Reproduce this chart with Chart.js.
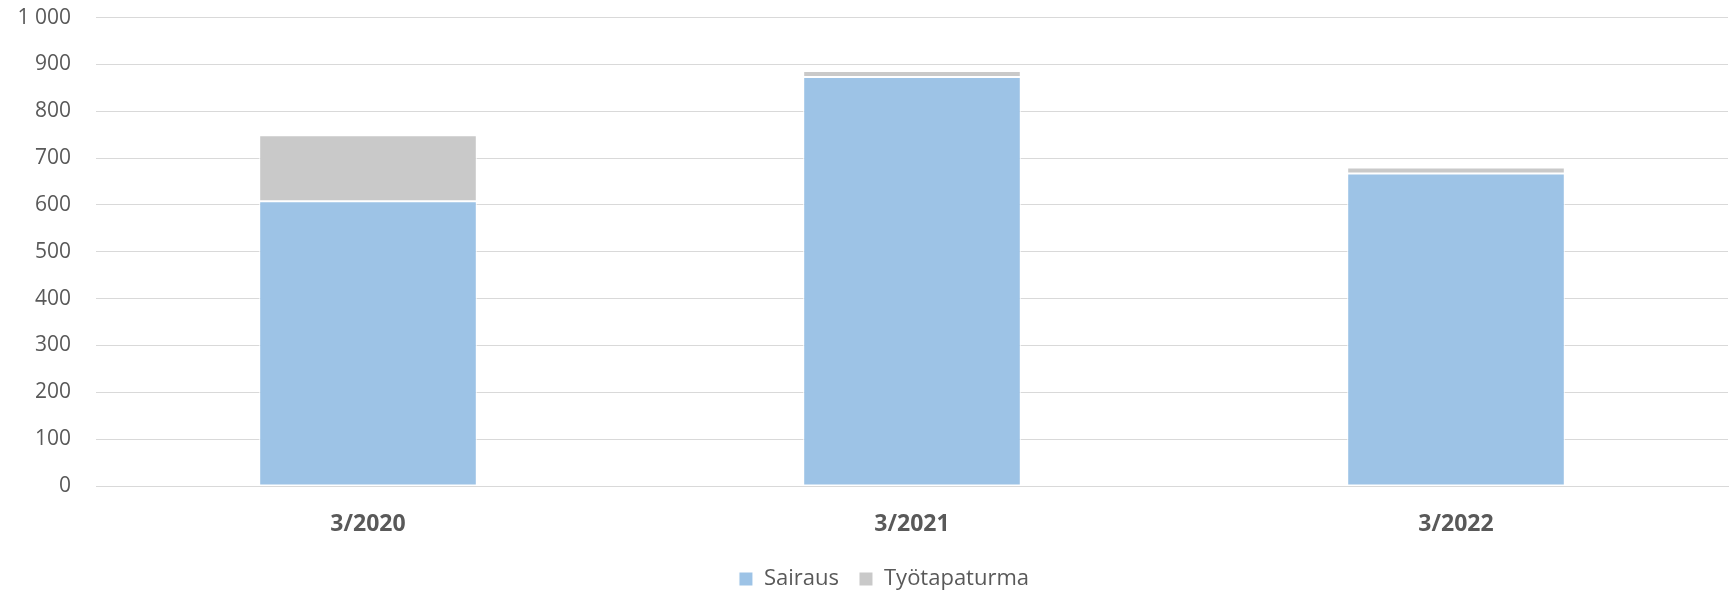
<!DOCTYPE html>
<html>
<head>
<meta charset="utf-8">
<script src="https://cdn.jsdelivr.net/npm/chart.js@4/dist/chart.umd.min.js"></script>
<style>
html,body{margin:0;padding:0;background:#fff;}
#wrap{width:1729px;height:595px;position:relative;}
</style>
</head>
<body>
<div id="wrap"><canvas id="c" width="1729" height="595"></canvas></div>
<script>
const categories = ['3/2020', '3/2021', '3/2022'];
const sairaus = [608, 873, 667];
const tyotapaturma = [141, 13, 13];
const yTicks = [0, 100, 200, 300, 400, 500, 600, 700, 800, 900, 1000];

const FONT = "'Open Sans', 'DejaVu Sans', sans-serif";
const TXT = '#595959';

const legendShift = {
  id: 'legendShift',
  afterLayout(chart) {
    const lg = chart.legend;
    if (lg) { lg.left += 20; lg.right += 20; }
  }
};

new Chart(document.getElementById('c'), {
  type: 'bar',
  data: {
    labels: categories,
    datasets: [
      { label: 'Sairaus', data: sairaus, backgroundColor: '#9DC3E6', borderColor: '#ffffff', borderWidth: 1, borderSkipped: false },
      { label: 'Työtapaturma', data: tyotapaturma, backgroundColor: '#C9C9C9', borderColor: '#ffffff', borderWidth: 1, borderSkipped: false }
    ]
  },
  plugins: [legendShift],
  options: {
    responsive: false,
    animation: false,
    devicePixelRatio: 1,
    layout: { padding: { top: 0, right: 1, left: 0, bottom: -5 } },
    datasets: { bar: { barPercentage: 0.4, categoryPercentage: 1.0 } },
    plugins: {
      tooltip: { enabled: false },
      legend: {
        position: 'bottom',
        labels: {
          color: TXT,
          font: { family: FONT, size: 22 },
          boxWidth: 14, boxHeight: 14,
          padding: 20
        }
      }
    },
    scales: {
      x: {
        stacked: true,
        grid: { display: false, drawTicks: false },
        border: { display: true, color: '#D9D9D9', width: 1 },
        ticks: { color: TXT, font: { family: FONT, size: 23, weight: 'bold' }, padding: 25 },
        afterFit: s => { s.height = 62; }
      },
      y: {
        stacked: true,
        min: 0, max: 1000,
        afterBuildTicks: s => { s.ticks = yTicks.map(v => ({ value: v })); },
        grid: { color: '#D9D9D9', lineWidth: 1, drawTicks: true, tickLength: 20, tickColor: 'rgba(0,0,0,0)' },
        border: { display: false },
        ticks: {
          color: TXT, font: { family: FONT, size: 21 }, padding: 5,
          callback: v => v >= 1000 ? String(v).replace(/\B(?=(\d{3})+(?!\d))/g, ' ') : String(v)
        },
        afterFit: s => { s.width = 96; }
      }
    }
  }
});
</script>
</body>
</html>
